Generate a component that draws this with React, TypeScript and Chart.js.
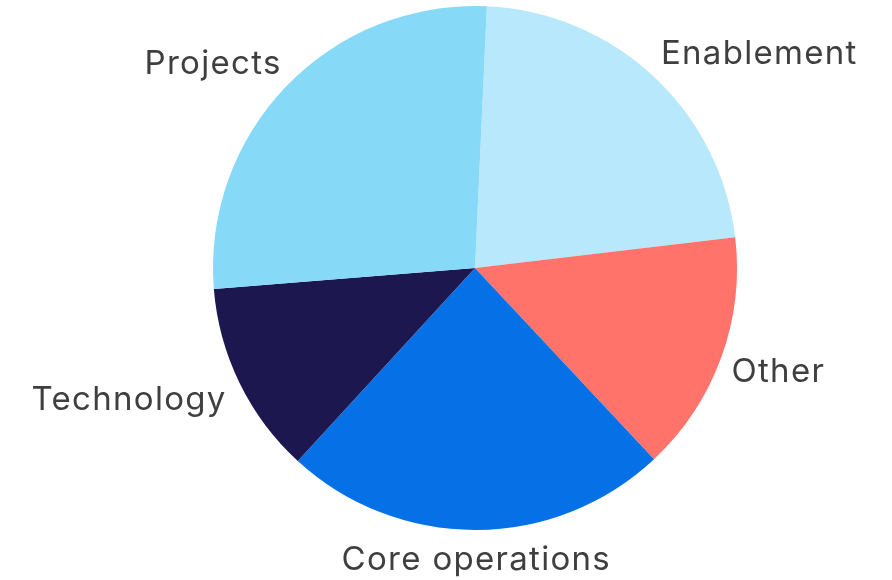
import React, { useEffect, useRef } from "react";
import { Chart, registerables } from "chart.js";

Chart.register(...registerables);

const categories = ["Enablement", "Other", "Core operations", "Technology", "Projects"];
const values = [22.4, 14.9, 23.8, 11.9, 27.0];
const colors = ["#B8E8FB", "#FF736A", "#0671E6", "#1D174F", "#87D9F8"];

const outsideLabels = {
  id: "outsideLabels",
  afterDraw(chart: any) {
    const ctx = chart.ctx;
    const meta = chart.getDatasetMeta(0);
    ctx.save();
    ctx.font = "33px Inter, 'Noto Sans', sans-serif";
    (ctx as any).letterSpacing = "1.3px";
    ctx.fillStyle = "#3f3f3f";
    ctx.textBaseline = "middle";
    meta.data.forEach((arc: any, i: number) => {
      const p = arc.getProps(["x", "y", "startAngle", "endAngle", "outerRadius"], true);
      const mid = (p.startAngle + p.endAngle) / 2;
      const dx = Math.cos(mid);
      const dy = Math.sin(mid);
      const r = p.outerRadius + 11;
      const px = p.x + dx * r;
      const py = p.y + dy * r;
      const label = categories[i];
      const h = 34;
      let align: CanvasTextAlign = "center";
      let sx = 0;
      if (dx > 0.2) align = "left";
      else if (dx < -0.2) { align = "right"; sx = dy < 0 ? 3 : -3; }
      ctx.textAlign = align;
      const oy = dy < 0 ? -2 : Math.abs(dx) > 0.2 ? 5 : 2;
      ctx.fillText(label, px + sx, py + dy * h / 2 + oy);
    });
    ctx.restore();
  },
};

export default function App() {
  const ref = useRef<HTMLCanvasElement | null>(null);
  useEffect(() => {
    if (!ref.current) return;
    const chart = new Chart(ref.current, {
      type: "pie",
      data: {
        labels: categories,
        datasets: [
          {
            data: values,
            backgroundColor: colors,
            borderWidth: 0,
          },
        ],
      },
      options: {
        responsive: false,
        animation: false,
        rotation: 2.6,
        layout: { padding: { top: 6, bottom: 50, left: 100, right: 42 } },
        plugins: { legend: { display: false }, tooltip: { enabled: false } },
      },
      plugins: [outsideLabels],
    });
    return () => chart.destroy();
  }, []);
  return (
    <div style={{ position: "fixed", left: 0, top: 0, width: 892, height: 580, background: "#fff" }}>
      <canvas ref={ref} width={892} height={580} />
    </div>
  );
}
